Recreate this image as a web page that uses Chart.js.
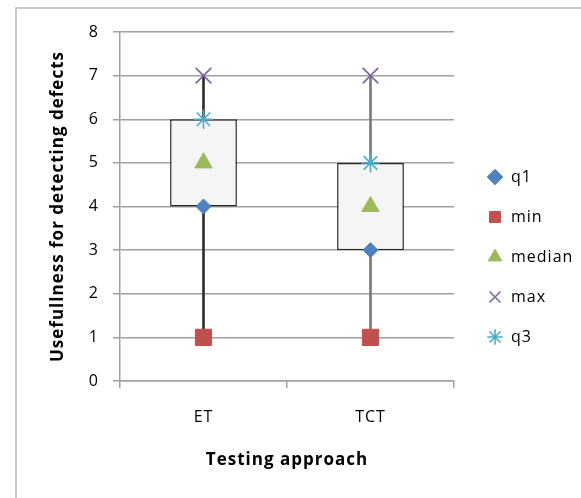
<!DOCTYPE html>
<html>
<head>
<meta charset="utf-8">
<script src="https://cdn.jsdelivr.net/npm/chart.js@4.4.1/dist/chart.umd.min.js"></script>
<style>
  html, body { margin: 0; padding: 0; background: #ffffff; overflow: hidden; }
  #wrap { position: relative; width: 581px; height: 498px; }
  #frame { position: absolute; left: 15px; top: 7px; width: 620px; height: 560px;
           border: 2px solid #c8c8c8; box-sizing: border-box; }
  canvas { position: absolute; left: 0; top: 0; }
</style>
</head>
<body>
<div id="wrap">
  <div id="frame"></div>
  <canvas id="chart" width="581" height="498"></canvas>
</div>
<script>
// Five-number summaries per testing approach
const categories = ['ET', 'TCT'];
const minValues = [1, 1];
const q1Values = [4, 3];
const medianValues = [5, 4];
const q3Values = [6, 5];
const maxValues = [7, 7];
const yTicks = [0, 1, 2, 3, 4, 5, 6, 7, 8];

const FONT = '"Open Sans", Calibri, "Liberation Sans", sans-serif';

const boxRanges = categories.map((c, i) => [q1Values[i], q3Values[i]]);
const whiskerRanges = categories.map((c, i) => [minValues[i], maxValues[i]]);

function markerSet(label, data, style, color, radius, extra) {
  return Object.assign({
    type: 'line',
    label: label,
    data: data,
    showLine: false,
    pointStyle: style,
    pointRadius: radius,
    pointHoverRadius: radius,
    backgroundColor: color,
    borderColor: color,
    pointBorderWidth: 1,
    order: 0
  }, extra || {});
}

// Slightly open letter spacing for all chart text
const textSpacing = {
  id: 'textSpacing',
  beforeUpdate(chart) { chart.ctx.letterSpacing = '1px'; },
  beforeDraw(chart) { chart.ctx.letterSpacing = '1px'; }
};

// Legend column: fixed width to the right of the plot, items nudged into place
const legendPlacement = {
  id: 'legendPlacement',
  afterInit(chart) {
    const legend = chart.legend;
    const fit = legend.fit;
    legend.fit = function () { fit.call(this); this.width = 127; };
  },
  afterLayout(chart) {
    const legend = chart.legend;
    legend.left += 9;
    legend.right += 9;
    legend.top -= 8;
    legend.bottom -= 8;
  }
};

new Chart(document.getElementById('chart'), {
  type: 'bar',
  data: {
    labels: categories,
    datasets: [
      markerSet('q1', q1Values, 'rectRot', '#4f81bd', 7.5),
      markerSet('min', minValues, 'rect', '#c0504d', 11.5),
      markerSet('median', medianValues, 'triangle', '#9bbb59', 10),
      markerSet('max', maxValues, 'crossRot', '#8064a2', 11, { pointBorderWidth: 1.6 }),
      markerSet('q3', q3Values, 'star', '#4bacc6', 9.5, { pointBorderWidth: 1.6 }),
      {
        label: 'box',
        data: boxRanges,
        grouped: false,
        backgroundColor: '#f5f5f5',
        borderColor: '#262626',
        borderWidth: 1.5,
        borderSkipped: false,
        categoryPercentage: 1,
        barPercentage: 0.4,
        order: 1
      },
      {
        label: 'whisker',
        data: whiskerRanges,
        grouped: false,
        backgroundColor: ['#2e2e2e', '#7a7a7a'],
        borderWidth: 0,
        barThickness: 2,
        order: 2
      }
    ]
  },
  plugins: [textSpacing, legendPlacement],
  options: {
    responsive: false,
    animation: false,
    events: [],
    layout: { padding: { top: 32, right: 0, bottom: 0, left: 0 } },
    plugins: {
      tooltip: { enabled: false },
      legend: {
        position: 'right',
        align: 'center',
        labels: {
          filter: item => item.text !== 'box' && item.text !== 'whisker',
          usePointStyle: true,
          boxHeight: 11,
          padding: 24,
          color: '#000',
          font: { family: FONT, size: 16 }
        }
      }
    },
    scales: {
      x: {
        offset: true,
        grid: { display: true, drawOnChartArea: false, drawTicks: true, tickLength: 7,
                color: '#a0a0a0', lineWidth: 1.5, offset: true },
        border: { display: true, color: '#a0a0a0', width: 1.5 },
        ticks: { color: '#000', padding: 20, font: { family: FONT, size: 16 } },
        title: { display: true, text: 'Testing approach', color: '#000',
                 font: { family: FONT, size: 17, weight: 'bold' },
                 padding: { top: 4, bottom: 28 } },
        afterFit: s => { s.height = 117; }
      },
      y: {
        min: 0,
        max: 8,
        afterBuildTicks: s => { s.ticks = yTicks.map(v => ({ value: v })); },
        grid: { color: '#a0a0a0', lineWidth: 1.5, tickLength: 7 },
        border: { display: true, color: '#a0a0a0', width: 1.5 },
        ticks: { color: '#000', padding: 14, font: { family: FONT, size: 16 } },
        title: { display: true, text: 'Usefullness for detecting defects', color: '#000',
                 font: { family: FONT, size: 17, weight: 'bold' },
                 padding: { top: 48, bottom: 0 } },
        afterFit: s => { s.width = 120; }
      }
    }
  }
});
</script>
</body>
</html>
